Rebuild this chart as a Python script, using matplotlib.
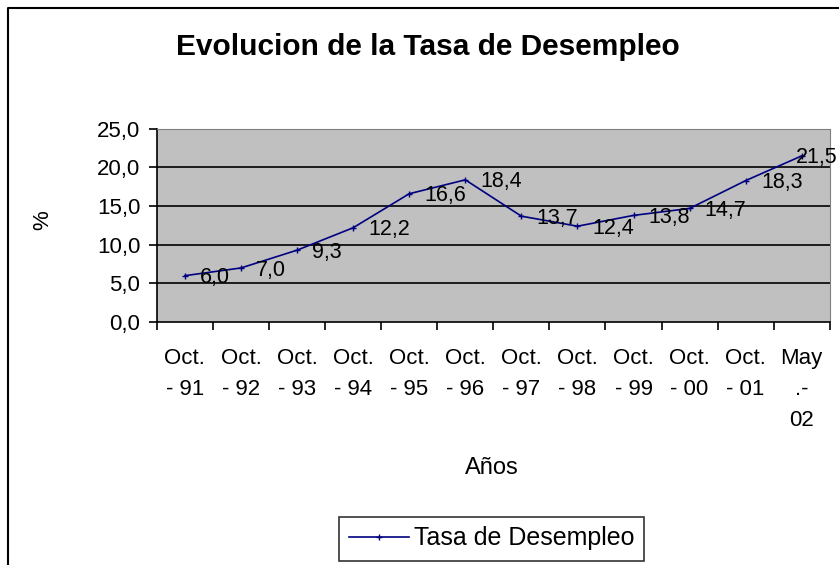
import numpy as np
import matplotlib.pyplot as plt
from matplotlib.lines import Line2D

# datos de la tasa de desempleo
categorias = ["Oct.\n- 91", "Oct.\n- 92", "Oct.\n- 93", "Oct.\n- 94", "Oct.\n- 95", "Oct.\n- 96",
              "Oct.\n- 97", "Oct.\n- 98", "Oct.\n- 99", "Oct.\n- 00", "Oct.\n- 01", "May\n.-\n02"]
tasa = [6.0, 7.0, 9.3, 12.2, 16.6, 18.4, 13.7, 12.4, 13.8, 14.7, 18.3, 21.5]
yticks = [0, 5, 10, 15, 20, 25]

plt.rcParams['font.family'] = ['Liberation Sans', 'DejaVu Sans']

fig = plt.figure(figsize=(8.39, 5.65), dpi=100)
ax = fig.add_axes([0.187, 0.430, 0.802, 0.342])
ax.set_facecolor("#C0C0C0")

x = np.arange(len(tasa))
ax.plot(x, tasa, color="#000080", lw=1.2, marker="+", ms=5, mew=1, label="Tasa de Desempleo", zorder=3)

for i, v in enumerate(tasa):
    dx = 11 if i < len(tasa) - 1 else -4
    ax.annotate(f"{v:.1f}".replace(".", ","), (i, v), xytext=(dx, -1.5), textcoords="offset points",
                ha="left", va="center", fontsize=15.5, zorder=4, annotation_clip=False)

ax.set_xlim(-0.5, len(tasa) - 0.5)
ax.set_ylim(0, 25)
ax.set_yticks(yticks)
ax.set_yticklabels([f"{t:.1f}".replace(".", ",") for t in yticks], fontsize=16)
for t in yticks[1:-1]:
    ax.axhline(t, color="black", lw=1.2, zorder=1)

ax.set_xticks(np.arange(-0.5, len(tasa)), labels=[])
ax.set_xticks(x, labels=categorias, minor=True, fontsize=16, linespacing=1.6, va="top")
ax.tick_params(axis="x", which="major", length=6, width=1.2, direction="out")
ax.tick_params(axis="x", which="minor", length=0, pad=19)
ax.tick_params(axis="y", length=6, width=1.2, direction="out", pad=6)

ax.spines["top"].set_color("#808080")
ax.spines["right"].set_color("#808080")
ax.spines["left"].set_linewidth(1.2)
ax.spines["bottom"].set_linewidth(1.2)

ax.set_ylabel("%", fontsize=16, va="center")
ax.yaxis.set_label_coords(-0.169, 0.53)
ax.set_xlabel("Años", fontsize=17, va="center")
ax.xaxis.set_label_coords(0.498, -0.756)

fig.text(0.51, 0.903, "Evolucion de la Tasa de Desempleo", ha="center", va="baseline",
         fontsize=21.5, fontweight="bold")

leg = fig.legend(loc="center", bbox_to_anchor=(491.5 / 839, 1 - 538.5 / 565), fontsize=18,
                 frameon=True, fancybox=False, edgecolor="black", handlelength=2.4,
                 handletextpad=0.2, borderpad=0.4, borderaxespad=0)
leg.get_frame().set_linewidth(1.2)

# borde del area del grafico (solo izquierda y arriba)
fig.add_artist(Line2D([8 / 839, 8 / 839, 1], [0, 1 - 8 / 565, 1 - 8 / 565],
                      transform=fig.transFigure, color="black", lw=1.5))

fig.savefig("out.png", dpi=100)
